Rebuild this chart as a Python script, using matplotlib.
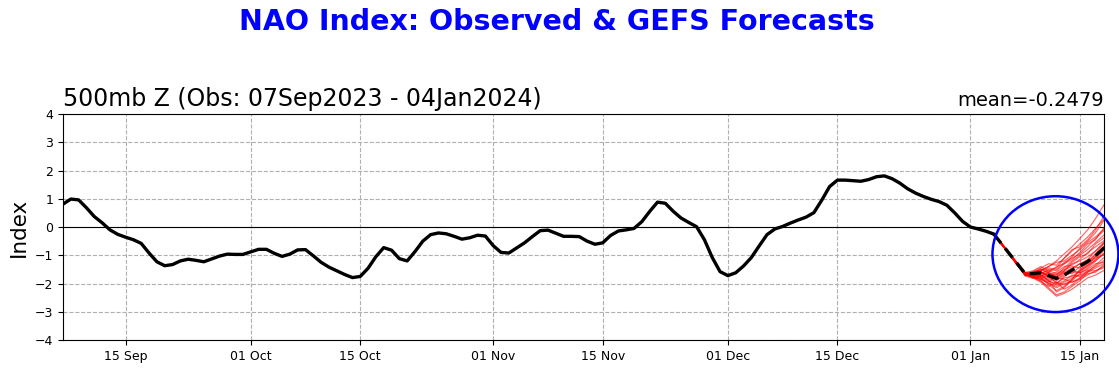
import matplotlib

matplotlib.use("Agg")
import matplotlib.dates as mdates
import matplotlib.pyplot as plt
import numpy as np
import pandas as pd
from matplotlib.patches import Ellipse

# observed daily NAO index, 07 Sep 2023 .. 04 Jan 2024
OBS_START = "2023-09-07"
obs_values = [
    0.81, 0.99, 0.96, 0.68, 0.37, 0.15, -0.10, -0.26, -0.36, -0.45,
    -0.58, -0.92, -1.23, -1.37, -1.33, -1.20, -1.14, -1.18, -1.23, -1.13,
    -1.03, -0.96, -0.97, -0.97, -0.88, -0.79, -0.79, -0.93, -1.04, -0.96,
    -0.81, -0.80, -1.02, -1.25, -1.42, -1.55, -1.68, -1.79, -1.75, -1.46,
    -1.05, -0.73, -0.82, -1.12, -1.20, -0.87, -0.50, -0.27, -0.21, -0.24,
    -0.33, -0.43, -0.38, -0.29, -0.32, -0.66, -0.90, -0.92, -0.74, -0.56,
    -0.34, -0.13, -0.11, -0.22, -0.33, -0.33, -0.34, -0.50, -0.61, -0.56,
    -0.30, -0.14, -0.10, -0.05, 0.19, 0.55, 0.88, 0.84, 0.56, 0.32,
    0.16, 0.01, -0.45, -1.08, -1.58, -1.72, -1.62, -1.38, -1.08, -0.67,
    -0.27, -0.07, 0.02, 0.14, 0.25, 0.35, 0.51, 0.95, 1.43, 1.66,
    1.66, 1.64, 1.62, 1.68, 1.78, 1.81, 1.71, 1.55, 1.35, 1.20,
    1.08, 0.98, 0.90, 0.77, 0.50, 0.20, 0.00, -0.07, -0.15, -0.25,
]

# GEFS forecast, daily from 04 Jan 2024
FCST_START = "2024-01-04"
fcst_mean = [-0.25, -0.60, -0.95, -1.30, -1.65, -1.65, -1.62, -1.72, -1.82,
             -1.70, -1.52, -1.38, -1.22, -1.02, -0.76, -0.55]
members = [
    [-0.25, -0.62, -0.98, -1.32, -1.62, -1.70, -1.55, -1.40, -1.20, -0.95, -0.70, -0.40, -0.10, 0.30, 0.75, 1.10],
    [-0.25, -0.58, -0.92, -1.28, -1.70, -1.75, -1.82, -2.00, -2.10, -1.95, -1.80, -1.70, -1.55, -1.40, -1.20, -1.00],
    [-0.25, -0.60, -0.96, -1.33, -1.68, -1.60, -1.50, -1.65, -1.70, -1.45, -1.20, -1.00, -0.80, -0.55, -0.30, -0.10],
    [-0.25, -0.61, -0.94, -1.30, -1.60, -1.72, -1.90, -2.15, -2.40, -2.30, -2.10, -1.90, -1.60, -1.35, -1.10, -0.90],
    [-0.25, -0.59, -0.97, -1.34, -1.66, -1.58, -1.45, -1.30, -1.35, -1.10, -0.85, -0.60, -0.35, -0.05, 0.25, 0.50],
    [-0.25, -0.63, -0.95, -1.27, -1.64, -1.78, -1.85, -1.95, -1.75, -1.60, -1.45, -1.30, -1.20, -1.00, -0.70, -0.50],
    [-0.25, -0.60, -0.99, -1.35, -1.72, -1.68, -1.70, -1.80, -1.95, -2.05, -1.85, -1.55, -1.25, -0.95, -0.60, -0.30],
    [-0.25, -0.57, -0.93, -1.31, -1.65, -1.62, -1.58, -1.75, -1.85, -1.65, -1.55, -1.62, -1.50, -1.30, -1.25, -1.10],
    [-0.25, -0.62, -0.96, -1.29, -1.69, -1.74, -1.66, -1.50, -1.55, -1.30, -1.05, -0.75, -0.50, -0.20, 0.20, 0.60],
    [-0.25, -0.60, -0.95, -1.32, -1.67, -1.80, -1.95, -2.20, -2.45, -2.35, -2.20, -2.00, -1.80, -1.70, -1.55, -1.40],
    [-0.25, -0.61, -0.97, -1.30, -1.63, -1.66, -1.62, -1.70, -1.60, -1.40, -1.35, -1.15, -0.90, -0.70, -0.50, -0.30],
    [-0.25, -0.59, -0.94, -1.33, -1.71, -1.76, -1.80, -1.90, -2.05, -1.90, -1.70, -1.75, -1.60, -1.45, -1.30, -1.20],
    [-0.25, -0.60, -0.95, -1.31, -1.66, -1.64, -1.55, -1.45, -1.50, -1.25, -1.10, -0.95, -0.70, -0.40, -0.15, 0.10],
    [-0.25, -0.62, -0.98, -1.34, -1.70, -1.73, -1.75, -1.85, -1.80, -1.85, -1.95, -1.85, -1.70, -1.55, -1.40, -1.30],
    [-0.25, -0.58, -0.93, -1.29, -1.62, -1.68, -1.72, -1.60, -1.75, -1.55, -1.30, -1.20, -1.05, -0.85, -0.60, -0.40],
    [-0.25, -0.61, -0.96, -1.32, -1.67, -1.71, -1.78, -2.05, -2.25, -2.10, -1.90, -1.65, -1.45, -1.20, -0.95, -0.70],
    [-0.25, -0.60, -0.97, -1.33, -1.64, -1.60, -1.52, -1.40, -1.25, -1.20, -1.00, -0.80, -0.55, -0.35, -0.10, 0.20],
    [-0.25, -0.59, -0.95, -1.30, -1.69, -1.77, -1.86, -1.98, -2.15, -2.00, -1.95, -1.80, -1.55, -1.55, -1.45, -1.30],
    [-0.25, -0.62, -0.94, -1.28, -1.66, -1.65, -1.60, -1.72, -1.90, -1.70, -1.50, -1.30, -1.15, -0.85, -0.55, -0.30],
    [-0.25, -0.60, -0.96, -1.31, -1.68, -1.70, -1.64, -1.55, -1.65, -1.50, -1.40, -1.45, -1.25, -1.05, -0.80, -0.60],
    [-0.25, -0.61, -0.95, -1.30, -1.73, -1.82, -1.70, -1.88, -2.30, -2.15, -1.85, -1.50, -1.35, -1.05, -0.70, -0.45],
    [-0.25, -0.60, -0.98, -1.35, -1.61, -1.55, -1.40, -1.55, -1.45, -1.10, -0.80, -0.70, -0.45, -0.10, 0.35, 0.80],
    [-0.25, -0.59, -0.93, -1.29, -1.65, -1.72, -1.68, -1.92, -2.00, -1.80, -1.75, -1.55, -1.40, -1.15, -0.85, -0.55],
    [-0.25, -0.62, -0.97, -1.33, -1.69, -1.63, -1.75, -1.62, -1.80, -1.60, -1.65, -1.40, -1.30, -1.10, -1.00, -0.75],
    [-0.25, -0.60, -0.94, -1.31, -1.66, -1.79, -1.92, -2.10, -1.95, -2.20, -2.05, -1.80, -1.65, -1.60, -1.35, -1.15],
    [-0.25, -0.58, -0.96, -1.32, -1.64, -1.67, -1.48, -1.60, -1.40, -1.30, -1.15, -0.90, -0.60, -0.45, -0.05, 0.30],
    [-0.25, -0.61, -0.95, -1.30, -1.70, -1.69, -1.80, -1.70, -2.00, -1.75, -1.60, -1.60, -1.35, -1.20, -0.95, -0.85],
    [-0.25, -0.60, -0.97, -1.34, -1.67, -1.74, -1.60, -1.78, -1.68, -1.55, -1.25, -1.05, -0.95, -0.60, -0.40, -0.20],
]

TITLE = "NAO Index: Observed & GEFS Forecasts"
SUBTITLE = "500mb Z (Obs: 07Sep2023 - 04Jan2024)"
MEAN_TEXT = "mean=-0.2479"
TICK_DATES = ["2023-09-15", "2023-10-01", "2023-10-15", "2023-11-01", "2023-11-15",
              "2023-12-01", "2023-12-15", "2024-01-01", "2024-01-15"]

obs_dates = pd.date_range(OBS_START, periods=len(obs_values), freq="D")
fcst_dates = pd.date_range(FCST_START, periods=len(fcst_mean), freq="D")

fig = plt.figure(figsize=(11.19, 3.91), dpi=100)
ax = fig.add_axes([0.0563, 0.1304, 0.9303, 0.578])

ax.axhline(0, color="black", linewidth=0.8, zorder=1)
ax.plot(obs_dates, obs_values, color="black", linewidth=2.4, zorder=4)
for m in members:
    ax.plot(fcst_dates, m, color="red", linewidth=0.85, alpha=0.6, zorder=2)
ax.plot(fcst_dates, fcst_mean, color="black", linewidth=2.4, linestyle=(0, (3.5, 2)), zorder=5)

ax.set_xlim(pd.Timestamp("2023-09-07"), pd.Timestamp("2024-01-18 02:00"))
ax.set_ylim(-4, 4)
ax.set_yticks(np.arange(-4, 5, 1))
ax.set_xticks(pd.to_datetime(TICK_DATES))
ax.xaxis.set_major_formatter(mdates.DateFormatter("%d %b"))
ax.tick_params(labelsize=9)
ax.grid(True, color="#b0b0b0", linestyle="--", linewidth=0.8)
ax.set_axisbelow(True)
ax.set_ylabel("Index", fontsize=15.5)
ax.set_title(SUBTITLE, loc="left", fontsize=17)
ax.set_title(MEAN_TEXT, loc="right", fontsize=14)

circle = Ellipse((mdates.date2num(pd.Timestamp("2024-01-11 21:00")), -0.96), width=16.1, height=4.1,
                 fill=False, edgecolor="blue", linewidth=1.8, clip_on=False, zorder=6)
ax.add_patch(circle)

fig.suptitle(TITLE, color="blue", fontsize=20.5, fontweight="bold", x=0.498, y=0.98)

fig.savefig("out.png", dpi=100)
